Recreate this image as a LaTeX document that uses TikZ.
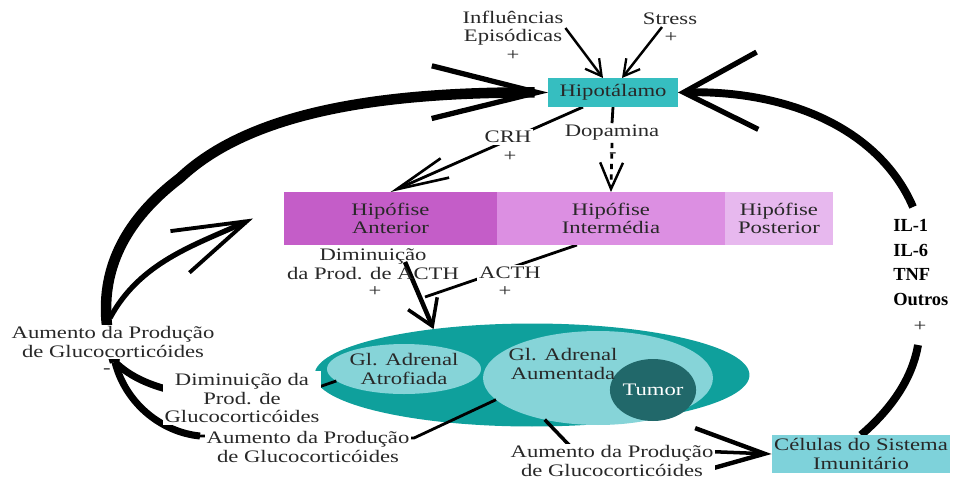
\documentclass[tikz,border=0pt]{standalone}
\usepackage{fontspec}
\setmainfont{Liberation Serif}[FakeStretch=1.29]
\newfontfamily\ilfont{Liberation Serif}
\usepackage{tikz}
\usetikzlibrary{arrows.meta,positioning,calc,shapes.geometric,backgrounds}
\definecolor{hipoteal}{RGB}{54,190,192}
\definecolor{adrteal}{RGB}{15,160,156}
\definecolor{adrlight}{RGB}{134,212,216}
\definecolor{tumorteal}{RGB}{33,104,106}
\definecolor{cellteal}{RGB}{126,210,218}
\definecolor{antpurple}{RGB}{196,93,200}
\definecolor{intpurple}{RGB}{220,143,226}
\definecolor{postpurple}{RGB}{231,184,238}
\definecolor{inkgray}{RGB}{40,40,40}
\newcommand{\labfont}{\fontsize{10}{10.6}\selectfont}
\tikzset{
  labtext/.style={
    align=center,
    font=\labfont,
    text=inkgray,
    inner sep=1pt
  },
  cover/.style={labtext,fill=white},
  boldtext/.style={
    align=left,
    font=\ilfont\bfseries\fontsize{10.5}{14}\selectfont,
    inner sep=0pt
  },
  hipobox/.style={
    rectangle,
    inner sep=0pt,
    outer sep=0pt,
    minimum height=1.06cm,
    align=center,
    font=\labfont,
    text=inkgray
  },
  gland/.style={
    ellipse,
    inner sep=0pt,
    outer sep=0pt,
    align=center,
    font=\labfont,
    text=inkgray
  },
  plainlink/.style={line width=1.6pt},
  fatstroke/.style={line width=4pt},
  thinarr/.style={-{Straight Barb[length=9pt,width=10pt,line width=1.3pt]},line width=1.4pt},
  crharr/.style={-{Straight Barb[length=30pt,width=12pt,line width=1.5pt]},line width=1.6pt},
  dopaarr/.style={-{Straight Barb[length=15pt,width=13pt,line width=1.4pt]},line width=1.6pt,dashed},
  actharr/.style={-{Straight Barb[length=14pt,width=18pt,line width=2pt]},line width=2.6pt},
  mainarr/.style={-{Straight Barb[length=60pt,width=30pt,line width=3pt]},line width=6pt},
  branarr/.style={-{Straight Barb[length=42pt,width=26pt,line width=2.2pt]},line width=3pt},
  imunarr/.style={-{Straight Barb[length=42pt,width=44pt,line width=3pt]},line width=4.5pt},
  imunline/.style={line width=4.5pt},
  cellarr/.style={-{Straight Barb[length=40pt,width=26pt,line width=2.5pt]},line width=2pt}
}
\begin{document}
\begin{tikzpicture}[x=0.02cm,y=-0.02cm]
  \useasboundingbox (0,0) rectangle (956,484);
  % glandulas
  \begin{scope}[on background layer]
    \node[gland,fill=adrteal,minimum width=8.7cm,minimum height=2.06cm] (adrenal) at (532,375) {};
    \node[gland,fill=adrlight,minimum width=4.6cm,minimum height=1.88cm] (aumentada) at (598,378) {};
    \node[gland,fill=adrlight,minimum width=2.72cm,minimum height=1cm] (atrofiada) at (404,369) {Gl. Adrenal\\Atrofiada};
    \node[gland,fill=tumorteal,text=white,minimum width=1.44cm,minimum height=1.24cm] (tumor) at (653,390) {Tumor};
  \end{scope}
  \node[labtext] (aumtext) at (563,364) {Gl. Adrenal\\Aumentada};

  % caixas
  \node[hipobox,fill=hipoteal,minimum width=2.6cm,minimum height=0.58cm] (hipo) at (613,92.5) {Hipotálamo};
  \node[hipobox,fill=antpurple,minimum width=4.26cm] (anterior) at (390.5,218.5) {Hipófise\\Anterior};
  \node[hipobox,fill=intpurple,minimum width=4.56cm,right=0pt of anterior] (intermedia) {Hipófise\\Intermédia};
  \node[hipobox,fill=postpurple,minimum width=2.16cm,right=0pt of intermedia] (posterior) {Hipófise\\Posterior};
  \node[hipobox,fill=cellteal,minimum width=3.58cm,minimum height=0.76cm] (celulas) at (861,454) {Células do Sistema\\Imunitário};

  % textos
  \node[labtext] (infl) at (513,28) {Influências\\Episódicas};
  \node[labtext] (inflplus) at (513,56) {+};
  \node[labtext] (stress) at (670,19) {Stress};
  \node[labtext] (stressplus) at (671,38) {+};
  \node[cover] (crh) at (508,137) {CRH};
  \node[labtext] (crhplus) at (510,157) {+};
  \node[labtext] (dopa) at (612,133) {Dopamina};
  \node[labtext] (dopaminus) at (613,155) {-};
  \node[labtext] (dimacth) at (373,264) {Diminuição\\da Prod. de ACTH};
  \node[labtext] (dimplus) at (375,292) {+};
  \node[cover] (acth) at (510,273) {ACTH};
  \node[labtext] (acthplus) at (505,292) {+};
  \node[boldtext,anchor=north west] (ils) at (893,219) {IL-1\\IL-6\\TNF\\Outros};
  \node[labtext] (ilplus) at (920,327) {+};
  \node[cover] (leftglu) at (113,342) {Aumento da Produção\\de Glucocorticóides};
  \node[labtext] (leftminus) at (107,371) {-};
  \node[cover] (dimglu) at (242,398) {Diminuição da\\Prod. de\\Glucocorticóides};
  \node[cover] (aumglu) at (308,447) {Aumento da Produção\\de Glucocorticóides};
  \node[cover] (brglu) at (612,461) {Aumento da Produção\\de Glucocorticóides};

  % pontos de passagem
  \coordinate (acthstart) at (405,262);
  \coordinate (acthjoin) at (425,297);
  \coordinate (junc) at (115,362);
  \coordinate (split) at (110,318);
  \coordinate (dimkink) at (290,397);
  \coordinate (aumkink) at (414,438);
  \coordinate (aumend) at (200,436);
  \coordinate (brkink) at (570,446);
  \coordinate (iltop) at (913,207);
  \coordinate (ilbottom) at (918,345);

  \begin{scope}[on background layer]
    % entradas do hipotalamo
    \draw[thinarr] (infl.east) -- ($(hipo.north)+(-10,0)$);
    \draw[thinarr] ($(stress.south)+(-8,0)$) -- ($(hipo.north)+(9,0)$);
    % CRH e dopamina
    \draw[crharr] ($(hipo.south)+(-30,0)$) -- (anterior.north);
    \draw[plainlink] (hipo.south) -- (dopa.north);
    \draw[dopaarr] (dopa.south) -- (intermedia.north);
    % ACTH
    \draw[plainlink] ($(intermedia.south west)+(80,0)$) -- (acthjoin);
    \draw[actharr] (acthstart) -- (adrenal.155);
    % retroalimentacao
    \draw[mainarr] (junc) .. controls (95,300) and (105,235) .. (180,178)
      .. controls (250,112) and (380,92) .. (hipo.west);
    \draw[branarr] (split) .. controls (140,262) and (195,245) .. ($(anterior.west)+(-31,0)$);
    \draw[plainlink] (atrofiada.190) -- (dimkink);
    \draw[fatstroke] (dimkink) .. controls (205,402) and (145,392) .. (junc);
    \draw[plainlink] (aumentada.192) -- (aumkink) -- (aumend);
    \draw[fatstroke] (aumend) .. controls (160,432) and (125,402) .. (junc);
    \draw[cellarr] (aumentada.218) -- (brkink) -- (celulas.west);
    % sistema imunitario
    \draw[imunarr] (iltop) .. controls (880,130) and (790,90) .. (hipo.east);
    \draw[imunline] (celulas.north) .. controls (890,410) and (912,380) .. (ilbottom);
  \end{scope}
\end{tikzpicture}
\end{document}
